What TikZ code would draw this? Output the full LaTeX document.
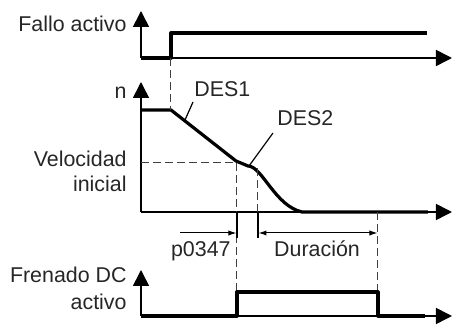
\documentclass[tikz,border=0pt]{standalone}
\usepackage{fontspec}
\setmainfont{Liberation Sans}
\usetikzlibrary{arrows.meta,positioning}

\begin{document}
\begin{tikzpicture}[x=0.5pt,y=-0.5pt,
	axis/.style={line width=0.8pt,-{Triangle[length=8pt,width=8pt]}},
	signal/.style={line width=1.6pt,line join=round},
	guide/.style={line width=0.5pt,black!75,dash pattern=on 4pt off 2pt},
	tick/.style={line width=0.7pt},
	dim/.style={line width=0.5pt},
	leader/.style={line width=0.6pt},
	lbl/.style={font=\fontsize{10.7}{12}\selectfont,text=black!85,inner sep=0pt}]
	\useasboundingbox (0,0) rectangle (457,325);

	% Fallo activo
	\coordinate (o1) at (141,58);
	\draw[axis] (o1) -- (141,11);
	\draw[axis] (o1) -- (452,58);
	\draw[signal] (o1) -- (171,58) -- (171,33) -- (427,33);
	\node[lbl, anchor=base east] (fallo) at (127,32) {Fallo activo};

	% velocidad n
	\coordinate (o2) at (141,212);
	\draw[axis] (o2) -- (141,82);
	\draw[axis] (o2) -- (452,212);
	\node[lbl, anchor=base east] (n) at (127,99) {n};
	\node[lbl, anchor=base east] (vel) at (127,167) {Velocidad};
	\node[lbl, anchor=base east] (ini) at (127,192) {inicial};
	\coordinate (k0) at (171,110);
	\coordinate (k1) at (236,161);
	\coordinate (k2) at (248,166);
	\draw[signal] (141,110) -- (k0) -- (k1) -- (k2)
		.. controls (262,166) and (275,206) .. (302,212) -- (428,212);

	% guias
	\draw[guide] (171,58) -- (k0);
	\draw[guide] (141,163) -- (237,163);
	\draw[guide] (237,163) -- (237,292);
	\draw[guide] (258,168) -- (258,212);
	\draw[guide] (378,212) -- (378,292);
	\draw[tick] (237,212) -- (237,238);
	\draw[tick] (258,212) -- (258,238);

	% DES1 / DES2
	\node[lbl, anchor=base west] (des1) at (194,97) {DES1};
	\node[lbl, anchor=base west] (des2) at (277,126) {DES2};
	\coordinate (d1) at (185,120);
	\coordinate (d2) at (249,166);
	\draw[leader] (193,102) -- (d1);
	\draw[leader] (273,133) -- (d2);

	% tiempos
	\draw[dim,-{Latex[length=4pt,width=2.6pt]}] (180,233) -- (236.5,233);
	\draw[dim,{Latex[length=4pt,width=2.6pt]}-{Latex[length=4pt,width=2.6pt]}] (258.5,233) -- (377.5,233);
	\node[lbl, anchor=base east] (p0347) at (231,257) {p0347};
	\node[lbl, anchor=base] (dur) at (317,257) {Duración};

	% Frenado DC activo
	\coordinate (o3) at (141,316);
	\draw[axis] (o3) -- (141,270);
	\draw[axis] (o3) -- (452,316);
	\draw[signal] (o3) -- (237,316) -- (237,292) -- (378,292) -- (378,316) -- (425,316);
	\node[lbl, anchor=base east] (fren) at (127,283) {Frenado DC};
	\node[lbl, anchor=base east] (act) at (127,310) {activo};
\end{tikzpicture}
\end{document}
